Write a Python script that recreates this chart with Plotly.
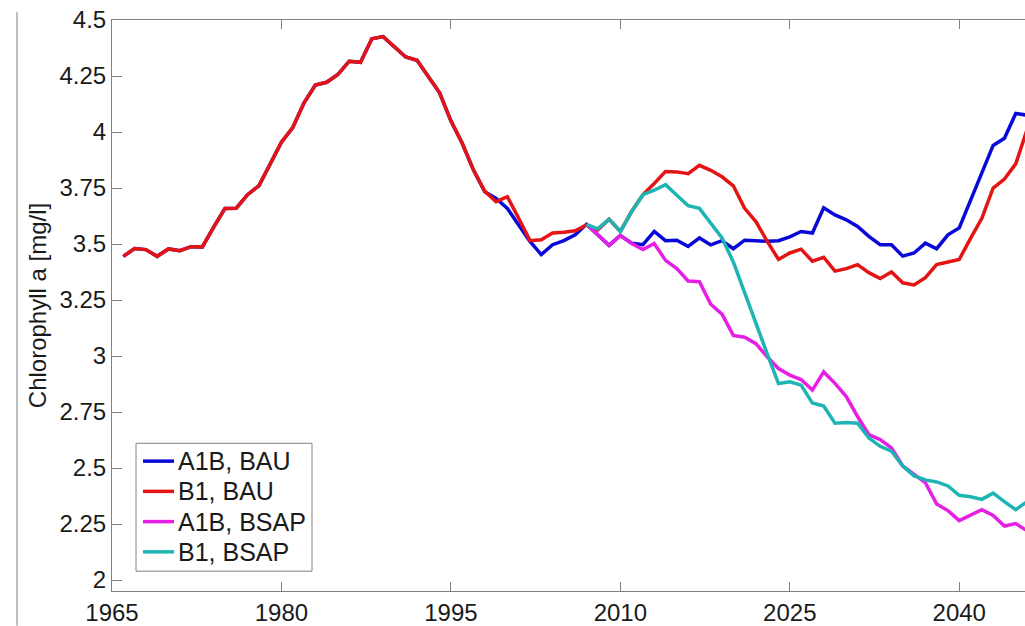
import plotly.graph_objects as go

# Yearly model output, chlorophyll a [mg/l]
years_hist = list(range(1966, 2007))
years_scen = list(range(2007, 2047))

# Common hindcast (1966-2006) shared by both BAU runs
hindcast = [3.445, 3.48, 3.475, 3.445, 3.478, 3.47, 3.488, 3.487, 3.575, 3.659,
            3.66, 3.72, 3.76, 3.86, 3.955, 4.02, 4.13, 4.21, 4.222, 4.257,
            4.316, 4.311, 4.416, 4.426, 4.379, 4.335, 4.32, 4.249, 4.175, 4.05,
            3.95, 3.83, 3.735, 3.689, 3.711, 3.615, 3.515, 3.519, 3.549, 3.553,
            3.559]

# A1B, BAU departs from the hindcast after 1998
a1b_bau_early = [3.733, 3.704, 3.659, 3.585, 3.512, 3.453, 3.497, 3.515, 3.541]
a1b_bau = [3.588, 3.54, 3.494, 3.538, 3.504, 3.497, 3.556, 3.515, 3.517, 3.489,
           3.527, 3.496, 3.515, 3.479, 3.517, 3.514, 3.512, 3.515, 3.532, 3.556,
           3.549, 3.662, 3.63, 3.608, 3.578, 3.534, 3.497, 3.497, 3.446, 3.46,
           3.504, 3.479, 3.541, 3.572, 3.695, 3.814, 3.94, 3.972, 4.083, 4.075]

b1_bau = [3.585, 3.563, 3.611, 3.556, 3.645, 3.72, 3.77, 3.824, 3.822, 3.814,
          3.851, 3.829, 3.8, 3.76, 3.659, 3.6, 3.512, 3.431, 3.46, 3.477,
          3.423, 3.441, 3.379, 3.39, 3.408, 3.372, 3.346, 3.375, 3.327, 3.317,
          3.35, 3.408, 3.42, 3.431, 3.525, 3.615, 3.75, 3.79, 3.858, 4.01]

a1b_bsap = [3.588, 3.54, 3.494, 3.538, 3.502, 3.475, 3.502, 3.427, 3.39, 3.335,
            3.332, 3.231, 3.187, 3.092, 3.084, 3.055, 2.996, 2.944, 2.915, 2.895,
            2.848, 2.929, 2.878, 2.819, 2.73, 2.649, 2.627, 2.59, 2.509, 2.472,
            2.435, 2.339, 2.31, 2.265, 2.29, 2.314, 2.288, 2.241, 2.252, 2.22]

b1_bsap = [3.588, 3.568, 3.611, 3.556, 3.645, 3.72, 3.74, 3.765, 3.718, 3.671,
           3.659, 3.595, 3.527, 3.42, 3.28, 3.145, 3.01, 2.877, 2.885, 2.87,
           2.79, 2.777, 2.7, 2.703, 2.7, 2.634, 2.597, 2.575, 2.509, 2.465,
           2.447, 2.438, 2.42, 2.378, 2.372, 2.36, 2.388, 2.35, 2.314, 2.35]

x_ticks = [1965, 1980, 1995, 2010, 2025, 2040]
y_ticks = [2, 2.25, 2.5, 2.75, 3, 3.25, 3.5, 3.75, 4, 4.25, 4.5]
y_ticktext = ["2", "2.25", "2.5", "2.75", "3", "3.25", "3.5", "3.75", "4", "4.25", "4.5"]

# Full series: BAU runs carry the hindcast, BSAP runs start in 2007
a1b_bau_full = hindcast[:32] + a1b_bau_early + a1b_bau
b1_bau_full = hindcast + b1_bau
years_full = years_hist + years_scen

series = [
    ("A1B, BAU", years_full, a1b_bau_full, "#0808D8"),
    ("B1, BAU", years_full, b1_bau_full, "#E41414"),
    ("A1B, BSAP", years_scen, a1b_bsap, "#E61EE6"),
    ("B1, BSAP", years_scen, b1_bsap, "#1EB4B4"),
]

W, H = 1025, 626
ML, MR, MT, MB = 112, 0, 20, 30
PW, PH = W - ML - MR, H - MT - MB


def px(xp):
    """Pixel column -> paper x."""
    return (xp - ML) / PW


def py(yp):
    """Pixel row -> paper y."""
    return (H - MB - yp) / PH


fig = go.Figure()
for name, xs, ys, color in series:
    fig.add_trace(go.Scatter(x=xs, y=ys, mode="lines", name=name,
                             line=dict(color=color, width=3.5)))

font_family = "Liberation Sans, Arial, sans-serif"
axis_color = "#808080"
text_color = "#1a1a1a"

fig.update_layout(
    width=W, height=H,
    margin=dict(l=ML, r=MR, t=MT, b=MB),
    paper_bgcolor="white", plot_bgcolor="white",
    font=dict(family=font_family, size=24, color=text_color),
    showlegend=False,
    xaxis=dict(
        range=[1965, 2045.82], tickmode="array", tickvals=x_ticks,
        ticks="inside", ticklen=9, tickcolor=axis_color, tickwidth=1,
        showline=True, linecolor=axis_color, linewidth=1, mirror="ticks",
        showgrid=False, zeroline=False,
    ),
    yaxis=dict(
        range=[1.951, 4.5], tickmode="array", tickvals=y_ticks, ticktext=y_ticktext,
        ticks="inside", ticklen=10, tickcolor=axis_color, tickwidth=1,
        showline=True, linecolor=axis_color, linewidth=1,
        showgrid=False, zeroline=False,
        title=dict(text="Chlorophyll a [mg/l]", font=dict(size=24), standoff=6),
    ),
)

# Legend box with line samples and labels
box_l, box_r, box_t, box_b = 136, 312, 447, 576
fig.add_shape(type="rect", xref="paper", yref="paper",
              x0=px(box_l), x1=px(box_r), y0=py(box_b), y1=py(box_t),
              fillcolor="white", line=dict(color=axis_color, width=1), layer="above")
row_y = [465, 495.5, 526, 556.5]
for (name, _, _, color), ry in zip(series, row_y):
    fig.add_shape(type="line", xref="paper", yref="paper",
                  x0=px(143), x1=px(174), y0=py(ry), y1=py(ry),
                  line=dict(color=color, width=3.5), layer="above")
    fig.add_annotation(x=px(176), y=py(ry), xref="paper", yref="paper",
                       text=name, showarrow=False, xanchor="left", yanchor="middle",
                       font=dict(size=25, color=text_color, family=font_family))

# Thin frame line at the left page edge
fig.add_shape(type="line", xref="paper", yref="paper",
              x0=px(17), x1=px(17), y0=py(12), y1=py(H + 5),
              line=dict(color=axis_color, width=1))

fig.write_html("out.html")
